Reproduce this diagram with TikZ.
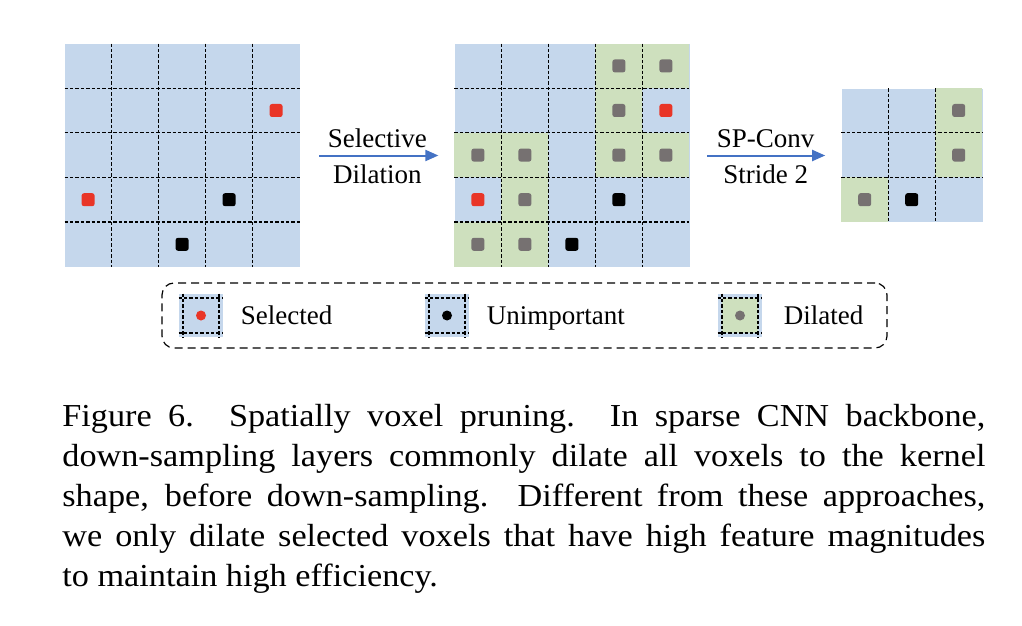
\documentclass[tikz,border=0pt]{standalone}
\usepackage{fontspec}
\setmainfont{Liberation Serif}
\newfontfamily\capfont[FakeStretch=1.07]{Liberation Serif}
\usetikzlibrary{arrows.meta, positioning}

\definecolor{voxblue}{RGB}{197,215,236}
\definecolor{dilgreen}{RGB}{206,224,190}
\definecolor{dilgray}{RGB}{118,113,113}
\definecolor{selred}{RGB}{233,53,39}
\definecolor{arrowblue}{RGB}{68,114,196}

\begin{document}
\begin{tikzpicture}[x=0.5pt, y=-0.5pt,
    voxgrid/.style={fill=voxblue, inner sep=0pt},
    gridline/.style={black, line width=0.65pt, dash pattern=on 1.7pt off 1pt},
    voxmark/.style={rounded corners=1.2pt},
    flow/.style={arrowblue, line width=1pt, -{Triangle[length=6.5pt,width=5.5pt]}},
    lbl/.style={text=black, font=\fontsize{13.5}{16}\selectfont},
    legtext/.style={lbl, inner sep=0pt, text height=9pt, text depth=0pt},
    legicon/.style={fill=voxblue, inner sep=0pt, minimum width=22pt, minimum height=21.5pt}]

    \useasboundingbox (0,0) rectangle (1022,626);

    % Draw the grids
    \node (g1) [voxgrid, minimum width=117.5pt, minimum height=111.5pt] at (182.5,155.5) {};
    \node (g2) [voxgrid, minimum width=117.5pt, minimum height=111.5pt, right=77pt of g1] {};
    \node (g3) [voxgrid, minimum width=70.5pt, minimum height=66.9pt, right=75.5pt of g2] {};

    % Input voxels
    \begin{scope}[shift={(g1.north west)}]
        \foreach \i in {1,...,4} {
            \draw[gridline] (\i*47,0) -- (\i*47,223);
            \draw[gridline] (0,\i*44.6) -- (235,\i*44.6);
        }
        \foreach \r/\c/\col in {1/4/selred, 3/0/selred, 3/3/black, 4/2/black}
            \fill[voxmark, \col] ({\c*47+17},{\r*44.6+15.8}) rectangle ++(13,13);
    \end{scope}

    % Dilated voxels
    \begin{scope}[shift={(g2.north west)}]
        \foreach \r/\c in {0/3,0/4,1/3,2/0,2/1,2/3,2/4,3/1,4/0,4/1} {
            \fill[dilgreen] (\c*47,\r*44.6) rectangle ++(47,44.6);
            \fill[voxmark, dilgray] ({\c*47+17},{\r*44.6+15.8}) rectangle ++(13,13);
        }
        \foreach \i in {1,...,4} {
            \draw[gridline] (\i*47,0) -- (\i*47,223);
            \draw[gridline] (0,\i*44.6) -- (235,\i*44.6);
        }
        \foreach \r/\c/\col in {1/4/selred, 3/0/selred, 3/3/black, 4/2/black}
            \fill[voxmark, \col] ({\c*47+17},{\r*44.6+15.8}) rectangle ++(13,13);
    \end{scope}

    % Output voxels
    \begin{scope}[shift={(g3.north west)}]
        \foreach \r/\c in {0/2,1/2,2/0} {
            \fill[dilgreen] (\c*47,\r*44.6) rectangle ++(47,44.6);
            \fill[voxmark, dilgray] ({\c*47+17},{\r*44.6+15.8}) rectangle ++(13,13);
        }
        \foreach \i in {1,2} {
            \draw[gridline] (\i*47,0) -- (\i*47,133.8);
            \draw[gridline] (0,\i*44.6) -- (141,\i*44.6);
        }
        \fill[voxmark, black] (64,105) rectangle ++(13,13);
    \end{scope}

    % Draw the arrows
    \draw[flow, shorten <=9.5pt, shorten >=8pt] (g1) -- node[lbl, above] {Selective} node[lbl, below=1pt] {Dilation} (g2);
    \draw[flow, shorten <=8.5pt, shorten >=8pt] (g2) -- node[lbl, above] {SP-Conv} node[lbl, below=1pt] {Stride 2} (g3);

    % Legend
    \node (legend) [draw, line width=0.6pt, dash pattern=on 4pt off 2.5pt, rounded corners=6pt, minimum width=362.5pt, minimum height=32.5pt] at (524.5,315.5) {};
    \node (isel) [legicon] at (201,315.5) {};
    \node (iuni) [legicon] at (447,315.5) {};
    \node (idil) [legicon] at (740,315.5) {};
    \fill[dilgreen] ([shift={(2.25pt,-2.25pt)}]idil.north west) rectangle ([shift={(-2.25pt,2.25pt)}]idil.south east);
    \foreach \ic in {isel, iuni, idil} {
        \draw[gridline] ([xshift=2.25pt]\ic.north west) -- ([xshift=2.25pt]\ic.south west);
        \draw[gridline] ([xshift=-2.25pt]\ic.north east) -- ([xshift=-2.25pt]\ic.south east);
        \draw[gridline] ([yshift=-2.25pt]\ic.north west) -- ([yshift=-2.25pt]\ic.north east);
        \draw[gridline] ([yshift=2.25pt]\ic.south west) -- ([yshift=2.25pt]\ic.south east);
    }
    \fill[selred] (isel) circle (2.5pt);
    \fill[black] (iuni) circle (2.5pt);
    \fill[dilgray] (idil) circle (2.5pt);
    \node (tsel) [legtext, right=8.5pt of isel] {Selected};
    \node (tuni) [legtext, right=8.5pt of iuni] {Unimportant};
    \node (tdil) [legtext, right=10.5pt of idil] {Dilated};

    % Caption
    \node (caption) [anchor=base west, inner sep=0pt, text width=461.5pt, align=justify, font=\capfont\fontsize{16}{20}\selectfont] at (62,426)
        {Figure 6.  Spatially voxel pruning.  In sparse CNN backbone,\linebreak
         down-sampling layers commonly dilate all voxels to the kernel\linebreak
         shape, before down-sampling.  Different from these approaches,\linebreak
         we only dilate selected voxels that have high feature magnitudes\linebreak
         to maintain high efficiency.};
\end{tikzpicture}
\end{document}
